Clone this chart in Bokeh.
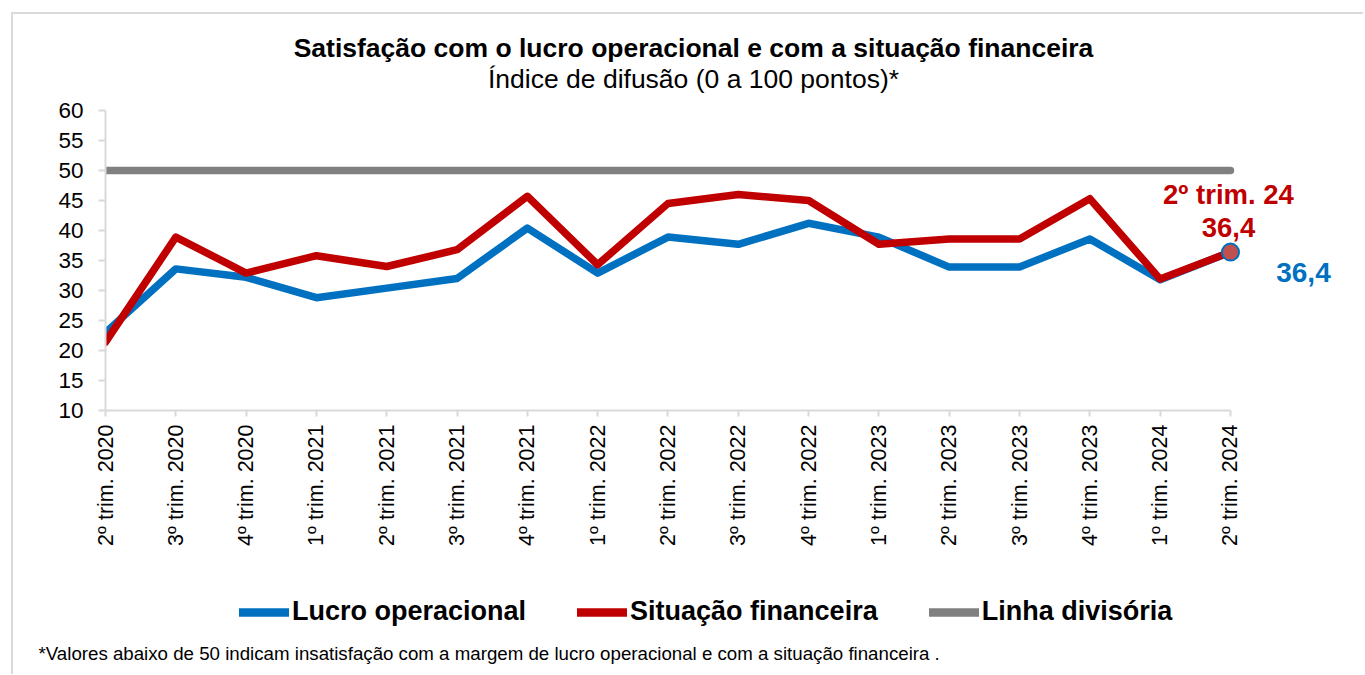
import math
from bokeh.plotting import figure
from bokeh.layouts import column
from bokeh.models import (Range1d, FixedTicker, Legend, LegendItem, Label, Title)
from bokeh.embed import file_html
from bokeh.resources import INLINE

categories = ["2º trim. 2020", "3º trim. 2020", "4º trim. 2020", "1º trim. 2021",
              "2º trim. 2021", "3º trim. 2021", "4º trim. 2021", "1º trim. 2022",
              "2º trim. 2022", "3º trim. 2022", "4º trim. 2022", "1º trim. 2023",
              "2º trim. 2023", "3º trim. 2023", "4º trim. 2023", "1º trim. 2024",
              "2º trim. 2024"]
lucro = [23.0, 33.6, 32.2, 28.8, 30.4, 32.0, 40.4, 32.9, 38.9, 37.7, 41.2, 38.9,
         33.9, 33.9, 38.6, 31.8, 36.4]
situacao = [21.4, 38.9, 32.9, 35.8, 34.0, 36.8, 45.7, 34.3, 44.5, 46.0, 45.0, 37.7,
            38.6, 38.6, 45.3, 31.9, 36.4]
linha = [50, 50, 50, 50, 50, 50, 50, 50, 50, 50, 50, 50, 50, 50, 50, 50, 50]
y_ticks = [10, 15, 20, 25, 30, 35, 40, 45, 50, 55, 60]
series_names = ["Lucro operacional", "Situação financeira", "Linha divisória"]
last_label = "2º trim. 24"

title = "Satisfação com o lucro operacional e com a situação financeira"
subtitle = "Índice de difusão (0 a 100 pontos)*"
footnote = "*Valores abaixo de 50 indicam insatisfação com a margem de lucro operacional e com a situação financeira ."

BLUE = "#0070C0"
RED = "#C00000"
GRAY = "#808080"
AXIS = "#D9D9D9"
FONT = "Liberation Sans"
W = 1350
xs = list(range(len(categories)))
n_last = len(categories) - 1


def blank_fig(h):
    f = figure(width=W, height=h, output_backend="svg", toolbar_location=None,
               x_range=Range1d(0, 1), y_range=Range1d(0, 1),
               x_axis_type=None, y_axis_type=None,
               min_border_left=0, min_border_right=0, min_border_top=0, min_border_bottom=0)
    f.outline_line_color = None
    f.xgrid.visible = False
    f.ygrid.visible = False
    f.background_fill_color = "white"
    f.border_fill_color = "white"
    return f


# ---------------- top: titles ----------------
p0 = blank_fig(82)
p0.add_layout(Label(x=588, y=49, x_units="screen", y_units="screen", text=title,
                    text_align="center", text_baseline="middle",
                    text_font=FONT, text_font_style="bold", text_font_size="26.5px",
                    text_color="black"))
p0.add_layout(Label(x=588, y=18, x_units="screen", y_units="screen", text=subtitle,
                    text_align="center", text_baseline="middle",
                    text_font=FONT, text_font_size="26.5px", text_color="black"))

# ---------------- main chart ----------------
p = figure(width=W, height=468, output_backend="svg", toolbar_location=None,
           x_range=Range1d(0, n_last + 1.565), y_range=Range1d(y_ticks[0], y_ticks[-1]),
           min_border_left=92, min_border_right=23, min_border_top=14,
           min_border_bottom=154)
p.outline_line_color = None
p.xgrid.visible = False
p.ygrid.visible = False
p.background_fill_color = "white"
p.border_fill_color = "white"

xa = p.xaxis[0]
xa.ticker = FixedTicker(ticks=xs)
xa.major_label_overrides = {i: c for i, c in enumerate(categories)}
xa.major_label_orientation = math.pi / 2
xa.bounds = (0, n_last)
xa.axis_line_color = AXIS
xa.axis_line_width = 2
xa.major_tick_line_color = AXIS
xa.major_tick_line_width = 2
xa.major_tick_out = 6
xa.major_tick_in = 0
xa.minor_tick_line_color = None
xa.major_label_text_font = FONT
xa.major_label_text_font_size = "21.5px"
xa.major_label_text_color = "black"
xa.major_label_standoff = 8

ya = p.yaxis[0]
ya.ticker = FixedTicker(ticks=y_ticks)
ya.axis_line_color = AXIS
ya.axis_line_width = 2
ya.major_tick_line_color = AXIS
ya.major_tick_line_width = 2
ya.major_tick_out = 7
ya.major_tick_in = 0
ya.minor_tick_line_color = None
ya.major_label_text_font = FONT
ya.major_label_text_font_size = "22.5px"
ya.major_label_text_color = "black"
ya.major_label_standoff = 15

p.line(xs, lucro, line_color=BLUE, line_width=7.5, line_join="round", line_cap="round")
p.line(xs, situacao, line_color=RED, line_width=7.5, line_join="round", line_cap="round")
p.line(xs, linha, line_color=GRAY, line_width=7.5, line_cap="round")
p.scatter([xs[-1]], [situacao[-1]], size=17, marker="circle", fill_color="#C0504D",
          line_color=BLUE, line_width=2)


def fmt(v):
    return f"{v:.1f}".replace(".", ",")


p.add_layout(Label(x=xs[-1], y=situacao[-1], text=last_label, x_offset=-2, y_offset=58,
                   text_align="center", text_baseline="middle", text_font=FONT,
                   text_font_style="bold", text_font_size="27.5px", text_color=RED))
p.add_layout(Label(x=xs[-1], y=situacao[-1], text=fmt(situacao[-1]), x_offset=-2, y_offset=25,
                   text_align="center", text_baseline="middle", text_font=FONT,
                   text_font_style="bold", text_font_size="27.5px", text_color=RED))
p.add_layout(Label(x=xs[-1], y=lucro[-1], text=fmt(lucro[-1]), x_offset=73, y_offset=-20,
                   text_align="center", text_baseline="middle", text_font=FONT,
                   text_font_style="bold", text_font_size="28px", text_color=BLUE))

# ---------------- bottom: legend + footnote ----------------
p2 = blank_fig(110)
# legend keys: same series, kept outside this strip's (0..1) view so only the keys show
leg_renderers = [p2.line(xs, vals, line_color=c, line_width=8.5, line_cap="round")
                 for vals, c in ((lucro, BLUE), (situacao, RED), (linha, GRAY))]
legend = Legend(items=[LegendItem(label=n, renderers=[r])
                       for n, r in zip(series_names, leg_renderers)],
                orientation="horizontal", location=(134, 2),
                glyph_width=50, glyph_height=30, label_height=30, label_standoff=3,
                spacing=51, padding=0, margin=0, border_line_color=None,
                background_fill_alpha=0, label_text_font=FONT,
                label_text_font_style="bold", label_text_font_size="27px",
                label_text_color="black")
p2.add_layout(legend)
p2.add_layout(Title(text=footnote, align="left", offset=-67, standoff=22,
                    text_font=FONT, text_font_size="18.7px", text_font_style="normal",
                    text_color="black"), "below")

layout = column(p0, p, p2, spacing=0,
                styles={"border-top": "2px solid #D9D9D9", "border-left": "2px solid #D9D9D9",
                        "margin-left": "11px", "margin-top": "12px"})

open("out.html", "w").write(file_html(layout, INLINE))
